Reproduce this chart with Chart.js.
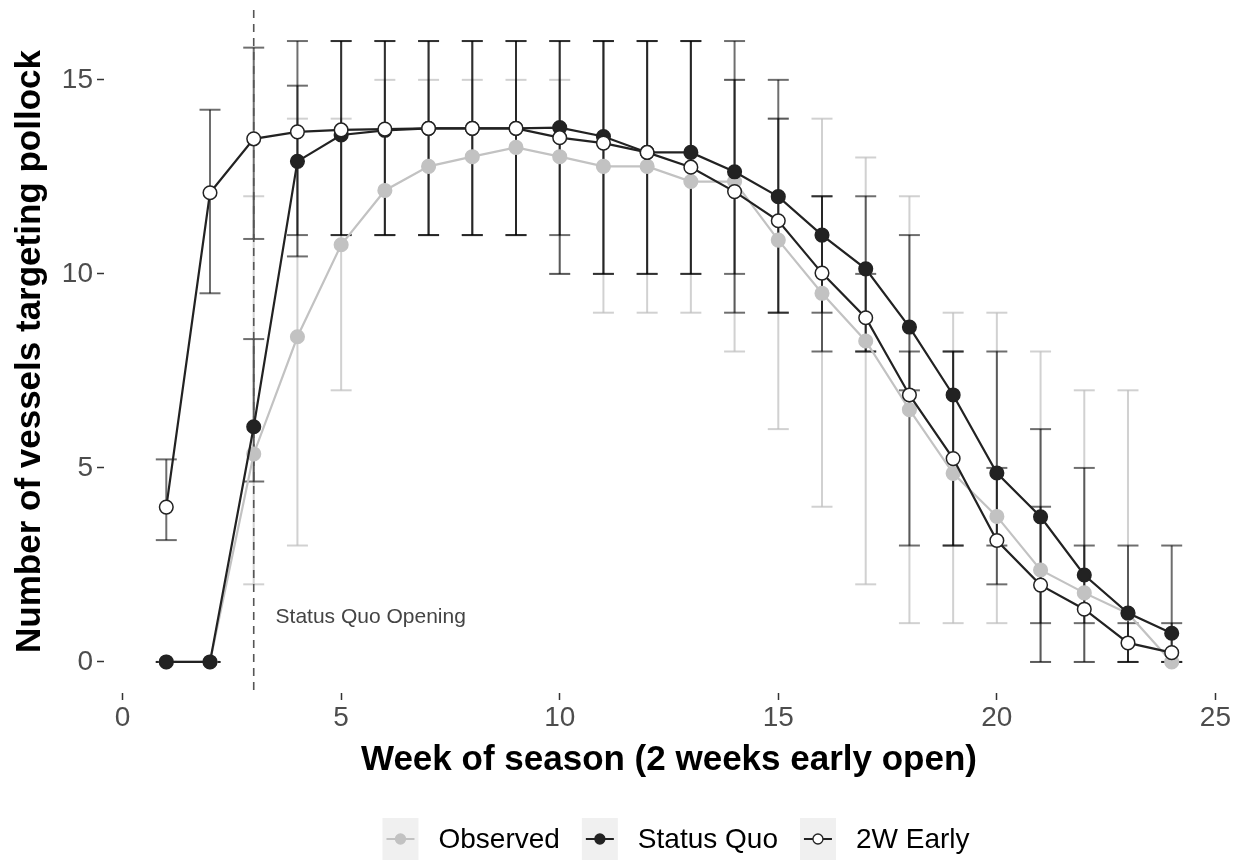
<!DOCTYPE html>
<html>
<head>
<meta charset="utf-8">
<script src="https://cdn.jsdelivr.net/npm/chart.js@4"></script>
<style>
  html, body { margin: 0; padding: 0; background: #fff; }
</style>
</head>
<body>
<canvas id="myChart" width="1247" height="863"></canvas>
<script>
const weeks = [1, 2, 3, 4, 5, 6, 7, 8, 9, 10, 11, 12, 13, 14, 15, 16, 17, 18, 19, 20, 21, 22, 23, 24];

const observed    = [0, 0, 5.36, 8.38, 10.75, 12.15, 12.77, 13.02, 13.26, 13.02, 12.77, 12.77, 12.38, 12.38, 10.87, 9.5, 8.27, 6.5, 4.86, 3.75, 2.37, 1.78, 1.25, 0];
const observedLow  = [0, 0, 2, 3, 7, 11, 11, 11, 11, 10, 9, 9, 9, 8, 6, 4, 2, 1, 1, 1, 0, 0, 0, 0];
const observedHigh = [0, 0, 12, 14, 14, 15, 15, 15, 15, 15, 16, 16, 16, 15, 14, 14, 13, 12, 9, 9, 8, 7, 7, 0];

const statusQuo     = [0, 0, 6.06, 12.9, 13.58, 13.7, 13.75, 13.75, 13.75, 13.77, 13.54, 13.13, 13.13, 12.63, 11.99, 11.0, 10.13, 8.63, 6.88, 4.87, 3.74, 2.24, 1.26, 0.74];
const statusQuoLow  = [0, 0, 4.65, 11, 11, 11, 11, 11, 11, 10, 10, 10, 10, 10, 9, 9, 8, 7, 3, 3, 1, 1, 0, 0];
const statusQuoHigh = [0, 0, 8.32, 16, 16, 16, 16, 16, 16, 16, 16, 16, 16, 16, 15, 12, 12, 11, 8, 8, 6, 5, 3, 3];

const early2w     = [3.99, 12.09, 13.48, 13.66, 13.71, 13.73, 13.75, 13.75, 13.75, 13.51, 13.37, 13.13, 12.75, 12.12, 11.37, 10.02, 8.87, 6.88, 5.24, 3.13, 1.98, 1.36, 0.49, 0.24];
const early2wLow  = [3.14, 9.5, 10.9, 10.45, 11, 11, 11, 11, 11, 11, 10, 10, 10, 9, 9, 8, 8, 3, 3, 2, 0, 0, 0, 0];
const early2wHigh = [5.22, 14.23, 15.83, 14.85, 16, 16, 16, 16, 16, 16, 16, 16, 16, 15, 14, 12, 10, 8, 8, 5, 4, 3, 1, 1];

const xTicks = [0, 5, 10, 15, 20, 25];
const yTicks = [0, 5, 10, 15];
const openingWeek = 3;

const FONT = "'Liberation Sans', Arial, sans-serif";

const series = [
  { label: 'Observed', values: observed, low: observedLow, high: observedHigh,
    line: '#c2c2c2', fill: '#c2c2c2', border: '#c2c2c2', err: 'rgba(190,190,190,0.7)' },
  { label: 'Status Quo', values: statusQuo, low: statusQuoLow, high: statusQuoHigh,
    line: '#222222', fill: '#222222', border: '#222222', err: 'rgba(0,0,0,0.57)' },
  { label: '2W Early', values: early2w, low: early2wLow, high: early2wHigh,
    line: '#222222', fill: '#ffffff', border: '#222222', err: 'rgba(0,0,0,0.57)' }
];

// error bars + opening line, drawn under the lines/points
const errorBars = {
  id: 'errorBars',
  beforeDatasetsDraw(chart) {
    const { ctx, scales: { x, y }, chartArea } = chart;
    ctx.save();
    ctx.lineWidth = 2;
    series.forEach(s => {
      ctx.strokeStyle = s.err;
      weeks.forEach((w, i) => {
        const px = x.getPixelForValue(w);
        const x0 = x.getPixelForValue(w - 0.24);
        const x1 = x.getPixelForValue(w + 0.24);
        const yl = y.getPixelForValue(s.low[i]);
        const yh = y.getPixelForValue(s.high[i]);
        ctx.beginPath();
        ctx.moveTo(x0, yh); ctx.lineTo(x1, yh);
        ctx.stroke();
        ctx.beginPath();
        ctx.moveTo(px, yh); ctx.lineTo(px, yl);
        ctx.stroke();
        ctx.beginPath();
        ctx.moveTo(x0, yl); ctx.lineTo(x1, yl);
        ctx.stroke();
      });
    });

    // status quo opening
    const ox = x.getPixelForValue(openingWeek);
    ctx.strokeStyle = '#555555';
    ctx.lineWidth = 1.6;
    ctx.setLineDash([8, 6]);
    ctx.beginPath();
    ctx.moveTo(ox, chartArea.top);
    ctx.lineTo(ox, chartArea.bottom);
    ctx.stroke();
    ctx.setLineDash([]);
    ctx.fillStyle = '#444444';
    ctx.font = '21px ' + FONT;
    ctx.textBaseline = 'middle';
    ctx.textAlign = 'left';
    ctx.fillText('Status Quo Opening', x.getPixelForValue(3.5), y.getPixelForValue(1.16));
    ctx.restore();
  }
};

// ggplot-like legend at the bottom
const bottomLegend = {
  id: 'bottomLegend',
  afterDraw(chart) {
    const { ctx } = chart;
    ctx.save();
    ctx.font = '28px ' + FONT;
    const boxW = 36, boxH = 42, gapText = 20, gapItem = 22;
    const widths = series.map(s => boxW + gapText + ctx.measureText(s.label).width);
    const total = widths.reduce((a, b) => a + b, 0) + gapItem * (series.length - 1);
    let cx = 676 - total / 2;
    const top = 818;
    series.forEach((s, i) => {
      ctx.fillStyle = '#f0f0f0';
      ctx.fillRect(cx, top, boxW, boxH);
      const my = top + boxH / 2;
      ctx.strokeStyle = s.line;
      ctx.lineWidth = 2;
      ctx.beginPath();
      ctx.moveTo(cx + 4, my); ctx.lineTo(cx + boxW - 4, my);
      ctx.stroke();
      ctx.beginPath();
      ctx.arc(cx + boxW / 2, my, 5, 0, Math.PI * 2);
      ctx.fillStyle = s.fill;
      ctx.fill();
      ctx.lineWidth = 1.3;
      ctx.strokeStyle = s.border;
      ctx.stroke();
      ctx.fillStyle = '#000000';
      ctx.textBaseline = 'middle';
      ctx.textAlign = 'left';
      ctx.fillText(s.label, cx + boxW + gapText, my + 1);
      cx += widths[i] + gapItem;
    });
    ctx.restore();
  }
};

const ctx = document.getElementById('myChart').getContext('2d');
const myChart = new Chart(ctx, {
  type: 'line',
  data: {
    datasets: series.map((s, i) => ({
      label: s.label,
      data: weeks.map((w, j) => ({ x: w, y: s.values[j] })),
      borderColor: s.line,
      borderWidth: 2.2,
      backgroundColor: s.fill,
      pointBackgroundColor: s.fill,
      pointBorderColor: s.border,
      pointBorderWidth: 1.5,
      pointRadius: 6.8,
      pointHoverRadius: 6.8,
      tension: 0,
      fill: false,
      order: series.length - i
    }))
  },
  options: {
    responsive: false,
    animation: false,
    layout: { padding: { top: 10, right: 13, left: 0, bottom: 75 } },
    plugins: {
      legend: { display: false },
      tooltip: { enabled: false }
    },
    scales: {
      x: {
        type: 'linear',
        min: -0.425,
        max: 25.425,
        afterBuildTicks: s => { s.ticks = xTicks.map(v => ({ value: v })); },
        afterFit: s => { s.height = 95; s.paddingLeft = 0; s.paddingRight = 0; },
        border: { display: false },
        grid: { drawOnChartArea: false, drawTicks: true, tickLength: 7, tickColor: '#333333', tickWidth: 1.5 },
        ticks: { color: '#4d4d4d', font: { family: FONT, size: 28 }, padding: 1, maxRotation: 0 },
        title: {
          display: true,
          text: 'Week of season (2 weeks early open)',
          color: '#000000',
          font: { family: FONT, size: 35, weight: 'bold' },
          padding: { top: 0, bottom: 7 }
        }
      },
      y: {
        min: -0.8,
        max: 16.8,
        afterBuildTicks: s => { s.ticks = yTicks.map(v => ({ value: v })); },
        afterFit: s => { s.width = 104; s.paddingTop = 0; s.paddingBottom = 0; },
        border: { display: false },
        grid: { drawOnChartArea: false, drawTicks: true, tickLength: 7, tickColor: '#333333', tickWidth: 1.5 },
        ticks: { color: '#4d4d4d', font: { family: FONT, size: 28 }, padding: 4 },
        title: {
          display: true,
          text: 'Number of vessels targeting pollock',
          color: '#000000',
          font: { family: FONT, size: 35, weight: 'bold' },
          padding: { top: 9, bottom: 0 }
        }
      }
    }
  },
  plugins: [errorBars, bottomLegend]
});
</script>
</body>
</html>
